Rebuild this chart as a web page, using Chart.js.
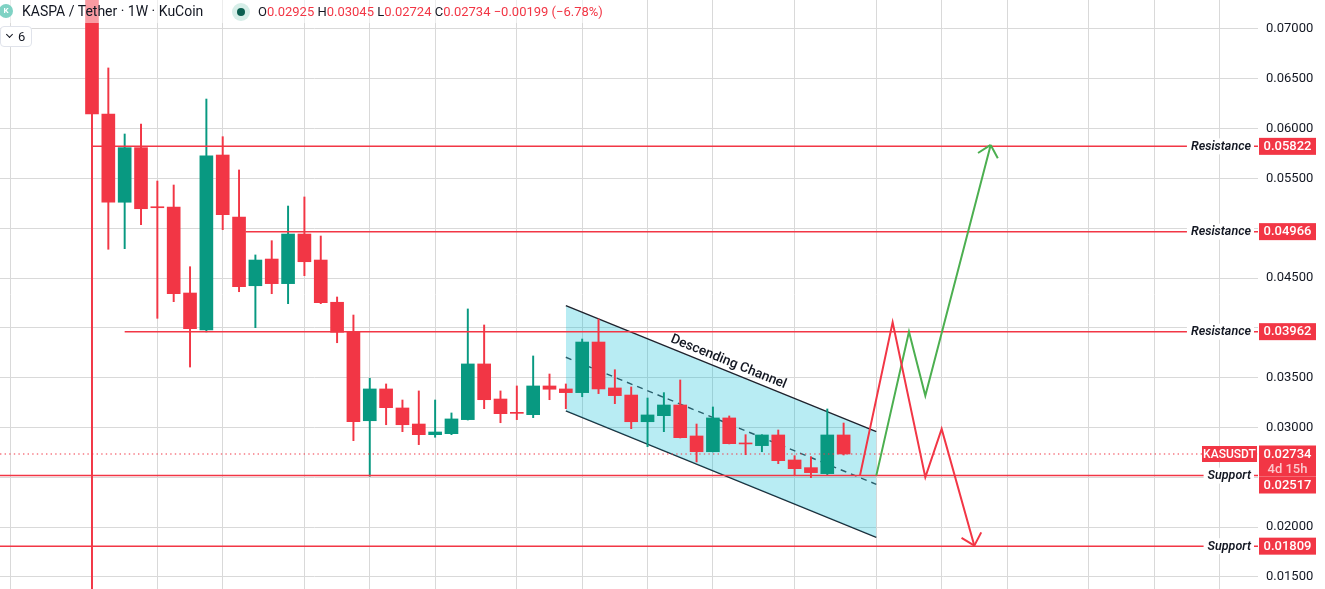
<!DOCTYPE html>
<html lang="en">
<head>
<meta charset="UTF-8">
<title>KASPA / Tether 1W</title>
<script src="https://cdn.jsdelivr.net/npm/chart.js@4"></script>
<style>
  html, body { margin: 0; padding: 0; background: #fff; }
  #wrap { position: relative; width: 1325px; height: 589px; overflow: hidden; font-family: Roboto, "Noto Sans", sans-serif; color: #131722; }
  #chart { position: absolute; left: 0; top: 0; }
  #legend { position: absolute; left: 0; top: 0; width: 616px; height: 23px; background: rgba(255,255,255,0.5); white-space: nowrap; }
  #legend span { position: absolute; }
  .coin { left: -1px; top: 4px; width: 14px; height: 14px; border-radius: 50%; background: #7fd2c4; color: #fff; font-size: 8px; font-weight: 700; line-height: 14px; text-align: center; }
  .title { left: 22px; top: 3px; font-size: 14px; line-height: 17px; }
  .status { left: 232px; top: 3px; width: 18px; height: 18px; border-radius: 50%; background: #d6eee8; }
  .status i { position: absolute; left: 5px; top: 5px; width: 8px; height: 8px; border-radius: 50%; background: #0b5f50; }
  .ohlc { left: 258px; top: 4px; font-size: 13px; line-height: 16px; }
  .ohlc em { font-style: normal; color: #f23645; }
  #toggle { position: absolute; left: 0; top: 26px; width: 30px; height: 19px; border: 1px solid #e0e3eb; border-radius: 4px; background: #fff; font-size: 13px; line-height: 19px; }
  #toggle .chev { position: absolute; left: 6px; top: 5px; width: 4px; height: 4px; border-right: 1.3px solid #131722; border-bottom: 1.3px solid #131722; transform: rotate(45deg); }
  #toggle .num { position: absolute; left: 17px; top: 0; }
</style>
</head>
<body>
<div id="wrap">
  <canvas id="chart" width="1325" height="589"></canvas>
  <div id="legend">
    <span class="coin">K</span>
    <span class="title">KASPA / Tether · 1W · KuCoin</span>
    <span class="status"><i></i></span>
    <span class="ohlc">O<em>0.02925</em> H<em>0.03045</em> L<em>0.02724</em> C<em>0.02734</em> <em>−0.00199 (−6.78%)</em></span>
  </div>
  <div id="toggle"><span class="chev"></span><span class="num">6</span></div>
</div>

<script>
    // weekly candles, oldest first
    const opens  = [0.09000, 0.06147, 0.05261, 0.05809, 0.05216, 0.05213, 0.04350, 0.03979, 0.05735, 0.05113,
                    0.04423, 0.04691, 0.04444, 0.04942, 0.04681, 0.04257, 0.03956, 0.03068, 0.03387, 0.03196,
                    0.03035, 0.02928, 0.02938, 0.03079, 0.03638, 0.03286, 0.03148, 0.03129, 0.03417, 0.03387,
                    0.03350, 0.03858, 0.03397, 0.03326, 0.03058, 0.03119, 0.03226, 0.02915, 0.02757, 0.03096,
                    0.02840, 0.02818, 0.02925, 0.02674, 0.02597, 0.02537, 0.02925];
    const highs  = [0.10000, 0.06609, 0.05946, 0.06046, 0.05474, 0.05434, 0.04614, 0.06297, 0.05919, 0.05585,
                    0.04732, 0.04875, 0.05223, 0.05314, 0.04922, 0.04310, 0.04129, 0.03494, 0.03437, 0.03276,
                    0.03367, 0.03276, 0.03146, 0.04190, 0.04029, 0.03367, 0.03417, 0.03718, 0.03537, 0.03437,
                    0.03888, 0.04089, 0.03580, 0.03407, 0.03296, 0.03350, 0.03477, 0.03035, 0.03206, 0.03116,
                    0.02928, 0.02928, 0.02975, 0.02717, 0.02707, 0.03186, 0.03045];
    const lows   = [0.00050, 0.04789, 0.04795, 0.05036, 0.04096, 0.04263, 0.03607, 0.03959, 0.04986, 0.04363,
                    0.04002, 0.04343, 0.04243, 0.04524, 0.04243, 0.03851, 0.02868, 0.02510, 0.03028, 0.02958,
                    0.02828, 0.02902, 0.02928, 0.03075, 0.03189, 0.03048, 0.03079, 0.03099, 0.03279, 0.03189,
                    0.03309, 0.03340, 0.03239, 0.02988, 0.02808, 0.02958, 0.02895, 0.02654, 0.02755, 0.02835,
                    0.02727, 0.02757, 0.02637, 0.02517, 0.02497, 0.02517, 0.02724];
    const closes = [0.06147, 0.05261, 0.05809, 0.05196, 0.05206, 0.04343, 0.03992, 0.05728, 0.05136, 0.04413,
                    0.04681, 0.04444, 0.04942, 0.04664, 0.04253, 0.03956, 0.03058, 0.03387, 0.03199, 0.03028,
                    0.02928, 0.02955, 0.03086, 0.03638, 0.03279, 0.03139, 0.03142, 0.03417, 0.03384, 0.03350,
                    0.03858, 0.03387, 0.03320, 0.03058, 0.03126, 0.03226, 0.02898, 0.02757, 0.03096, 0.02838,
                    0.02835, 0.02925, 0.02667, 0.02587, 0.02547, 0.02925, 0.02734];
    const lastPrice = 0.02734;

    // first week of each month (vertical grid), in week numbers
    const monthStarts = [-5, 0, 4, 8, 13, 17, 21, 26, 30, 34, 38, 43, 48, 52, 56, 61, 65, 69];
    const priceTicks = [0.015, 0.020, 0.025, 0.030, 0.035, 0.040, 0.045, 0.050, 0.055, 0.060, 0.065, 0.070];

    // horizontal levels
    const levelPrices = [0.05822, 0.04966, 0.03962, 0.02517, 0.01809];
    const levelNames  = ['Resistance', 'Resistance', 'Resistance', 'Support', 'Support'];
    const levelFrom   = [0, 9.4, 2, -5.63, -5.63];

    // descending channel
    const channelWeeks  = [29, 48];
    const channelUpper  = [0.04223, 0.02958];
    const channelMiddle = [0.03705, 0.02430];
    const channelLower  = [0.03166, 0.01898];

    // projected paths
    const bearWeeks  = [47, 49, 51, 52, 54];
    const bearPrices = [0.02517, 0.04056, 0.02500, 0.02985, 0.01814];
    const bullWeeks  = [48, 50, 51, 55];
    const bullPrices = [0.02517, 0.03962, 0.03319, 0.05836];

    const X_MIN = -5.63, X_MAX = 71.36;
    const Y_MIN = 0.01379, Y_MAX = 0.07291;

    const UP = '#089981', DOWN = '#f23645', BULL = '#4caf50', GRID = '#d9d9d9';
    const candleColors = opens.map((o, i) => closes[i] >= o ? UP : DOWN);

    function pts(xs, ys) {
        return xs.map((x, i) => ({ x: x, y: ys[i] }));
    }
    function flat(x0, v) {
        return [{ x: x0, y: v }, { x: X_MAX, y: v }];
    }
    // price scale hides labels that sit under a level badge
    function tickLabel(v) {
        const covered = levelPrices.concat([lastPrice]).some(p => Math.abs(p - v) < 0.0012);
        return covered ? '' : v.toFixed(5);
    }

    const datasets = [
        { type: 'bar', data: opens.map((o, i) => ({ x: i, y: [o, closes[i]] })),
          backgroundColor: candleColors, barThickness: 13, minBarLength: 1, grouped: false, order: 3 },
        { type: 'bar', data: lows.map((l, i) => ({ x: i, y: [l, highs[i]] })),
          backgroundColor: candleColors, barThickness: 1.3, grouped: false, order: 4 },
        { type: 'line', data: pts(channelWeeks, channelUpper), borderColor: '#1e222d', borderWidth: 1.4,
          fill: '+1', backgroundColor: 'rgba(0,188,212,0.28)', order: 6 },
        { type: 'line', data: pts(channelWeeks, channelLower), borderColor: '#1e222d', borderWidth: 1.4, order: 6 },
        { type: 'line', data: pts(channelWeeks, channelMiddle), borderColor: '#3a3d45', borderWidth: 1.4,
          borderDash: [6, 5], order: 6 },
        { type: 'line', data: flat(X_MIN, lastPrice), borderColor: DOWN, borderWidth: 1.2, borderDash: [1.4, 3.2], order: 2 }
    ];
    levelPrices.forEach((p, i) => {
        datasets.push({ type: 'line', data: flat(levelFrom[i], p), borderColor: DOWN, borderWidth: 1.5, order: 2 });
    });
    datasets.push({ type: 'line', data: pts(bearWeeks, bearPrices), borderColor: DOWN, borderWidth: 2, order: 1 });
    datasets.push({ type: 'line', data: pts(bullWeeks, bullPrices), borderColor: BULL, borderWidth: 2, order: 1 });

    const drawings = {
        id: 'drawings',
        afterDatasetsDraw(chart) {
            const { ctx, scales: { x, y } } = chart;

            // arrow heads on the projected paths
            [[bearWeeks, bearPrices, DOWN], [bullWeeks, bullPrices, BULL]].forEach(([xs, ys, color]) => {
                const n = xs.length;
                const x1 = x.getPixelForValue(xs[n - 2]), y1 = y.getPixelForValue(ys[n - 2]);
                const x2 = x.getPixelForValue(xs[n - 1]), y2 = y.getPixelForValue(ys[n - 1]);
                const a = Math.atan2(y1 - y2, x1 - x2);
                ctx.save();
                ctx.strokeStyle = color;
                ctx.lineWidth = 2;
                ctx.beginPath();
                [-0.75, 0.75].forEach(d => {
                    ctx.moveTo(x2, y2);
                    ctx.lineTo(x2 + 15 * Math.cos(a + d), y2 + 15 * Math.sin(a + d));
                });
                ctx.stroke();
                ctx.restore();
            });

            // caption along the upper channel line
            const px0 = x.getPixelForValue(channelWeeks[0]), py0 = y.getPixelForValue(channelUpper[0]);
            const px1 = x.getPixelForValue(channelWeeks[1]), py1 = y.getPixelForValue(channelUpper[1]);
            const ang = Math.atan2(py1 - py0, px1 - px0);
            const t = 0.513;
            const cx = px0 + (px1 - px0) * t + 9 * Math.sin(ang);
            const cy = py0 + (py1 - py0) * t - 9 * Math.cos(ang);
            ctx.save();
            ctx.translate(cx, cy);
            ctx.rotate(ang);
            ctx.font = '500 13.5px Roboto';
            ctx.fillStyle = '#131722';
            ctx.textAlign = 'center';
            ctx.textBaseline = 'middle';
            ctx.fillText('Descending Channel', 0, 0);
            ctx.restore();
        },
        afterDraw(chart) {
            const { ctx, chartArea: { right }, scales: { y } } = chart;
            ctx.save();
            ctx.textBaseline = 'middle';

            // last price block
            const yc = y.getPixelForValue(lastPrice);
            ctx.fillStyle = DOWN;
            ctx.fillRect(right - 56, yc - 8, 55, 16);
            ctx.fillRect(right + 1, yc - 8.5, 57, 31);
            ctx.fillStyle = '#fff';
            ctx.textAlign = 'center';
            ctx.font = '500 12px Roboto';
            ctx.fillText('KASUSDT', right - 28.5, yc + 0.5);
            ctx.font = '500 13px Roboto';
            ctx.fillText(lastPrice.toFixed(5), right + 29.5, yc + 1);
            ctx.fillStyle = 'rgba(255,255,255,0.72)';
            ctx.fillText('4d 15h', right + 29.5, yc + 15.5);
            const blockTop = yc - 8.5, blockBottom = yc + 22.5;

            levelPrices.forEach((p, i) => {
                const yl = y.getPixelForValue(p);
                let top = yl - 8.5;
                if (top < blockBottom && top + 17 > blockTop) top = blockBottom;
                ctx.fillStyle = DOWN;
                ctx.fillRect(right + 1, top, 57, 17);
                ctx.fillStyle = '#fff';
                ctx.textAlign = 'center';
                ctx.font = '500 13px Roboto';
                ctx.fillText(p.toFixed(5), right + 29.5, top + 9);

                ctx.font = 'italic 600 12.5px Roboto';
                const w = ctx.measureText(levelNames[i]).width;
                const tx = right - 7 - w;
                ctx.fillStyle = '#fff';
                ctx.fillRect(tx - 4, yl - 8, w + 7, 16);
                ctx.fillStyle = '#131722';
                ctx.textAlign = 'left';
                ctx.fillText(levelNames[i], tx, yl + 0.5);
            });
            ctx.restore();
        }
    };

    new Chart(document.getElementById('chart'), {
        type: 'bar',
        data: { datasets: datasets },
        plugins: [drawings],
        options: {
            responsive: false,
            animation: false,
            layout: { padding: 0 },
            elements: { point: { radius: 0 }, line: { tension: 0, fill: false } },
            plugins: { legend: { display: false }, tooltip: { enabled: false } },
            scales: {
                x: {
                    type: 'linear', min: X_MIN, max: X_MAX, offset: false,
                    afterBuildTicks: s => { s.ticks = monthStarts.map(v => ({ value: v })); },
                    afterFit: s => { s.height = 0; s.paddingLeft = 0; s.paddingRight = 0; },
                    ticks: { display: false },
                    grid: { color: GRID, drawTicks: false, offset: false },
                    border: { display: false }
                },
                y: {
                    position: 'right', min: Y_MIN, max: Y_MAX,
                    afterBuildTicks: s => { s.ticks = priceTicks.map(v => ({ value: v })); },
                    afterFit: s => { s.width = 67; s.paddingTop = 0; s.paddingBottom = 0; },
                    ticks: { padding: 8, color: '#131722', font: { family: 'Roboto', size: 13 }, callback: tickLabel },
                    grid: { color: GRID, drawTicks: false },
                    border: { display: false }
                }
            }
        }
    });
</script>
</body>
</html>
